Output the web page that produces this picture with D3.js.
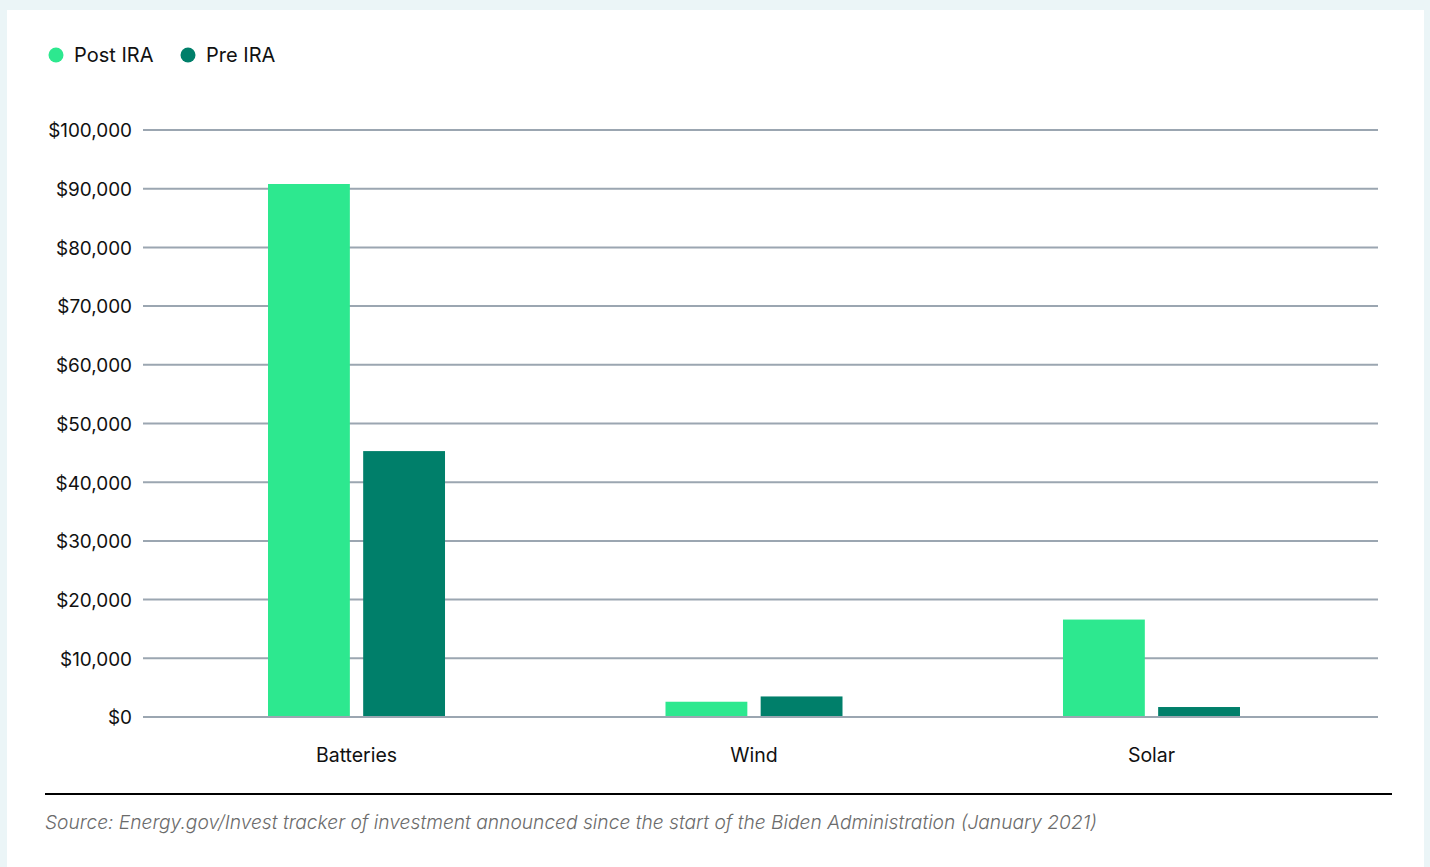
<!DOCTYPE html>
<html>
<head>
<meta charset="utf-8">
<script src="https://cdn.jsdelivr.net/npm/d3@7"></script>
<style>
  html, body { margin: 0; padding: 0; background: #ebf5f7; }
  svg { display: block; }
</style>
</head>
<body>
<svg id="chart" width="1430" height="867"></svg>
<script>
const categories = ["Batteries", "Wind", "Solar"];
const seriesNames = ["Post IRA", "Pre IRA"];
const postIRA = [90800, 2600, 16600];
const preIRA = [45300, 3500, 1700];
const yTicks = [0, 10000, 20000, 30000, 40000, 50000, 60000, 70000, 80000, 90000, 100000];
const colors = ["#2de88f", "#007f6a"];
const sourceText = "Source: Energy.gov/Invest tracker of investment announced since the start of the Biden Administration (January 2021)";

const svg = d3.select("#chart");
const font = "Inter, 'Liberation Sans', sans-serif";

// card
svg.append("rect").attr("x", 7).attr("y", 10).attr("width", 1417).attr("height", 857).attr("fill", "#ffffff");

const y = d3.scaleLinear().domain([0, 100000]).range([717, 130]);
const x0 = d3.scaleBand().domain(categories).range([157.75, 1350.25]).paddingInner(0.5547).paddingOuter(0.2774);
const x1 = d3.scaleBand().domain(seriesNames).range([0, x0.bandwidth()]).paddingInner(0.14);

// grid + y labels
const yAxis = d3.axisLeft(y).tickValues(yTicks).tickSize(0).tickPadding(0).tickFormat(d => "$" + d3.format(",")(d));
const gy = svg.append("g").attr("transform", "translate(132,0)").call(yAxis);
gy.select(".domain").remove();
gy.selectAll("text").attr("font-family", font).attr("font-size", 18.9).attr("fill", "#111").attr("dy", "0.36em");

svg.append("g").selectAll("line").data(yTicks).join("line")
  .attr("x1", 143).attr("x2", 1378)
  .attr("y1", d => y(d)).attr("y2", d => y(d))
  .attr("stroke", "#9ba6b1").attr("stroke-width", 2);

// bars
const data = categories.map((c, i) => ({ cat: c, vals: [postIRA[i], preIRA[i]] }));
const groups = svg.append("g").selectAll("g").data(data).join("g")
  .attr("transform", d => `translate(${x0(d.cat)},0)`);
groups.selectAll("rect").data(d => d.vals.map((v, j) => ({ name: seriesNames[j], v, j }))).join("rect")
  .attr("x", d => x1(d.name))
  .attr("width", x1.bandwidth())
  .attr("y", d => y(d.v))
  .attr("height", d => y(0) - y(d.v) - 1)
  .attr("fill", d => colors[d.j]);

// x labels
const xAxis = d3.axisBottom(x0).tickSize(0);
const gx = svg.append("g").attr("transform", "translate(0,745)").call(xAxis);
gx.select(".domain").remove();
gx.selectAll("text").attr("font-family", font).attr("font-size", 19.5).attr("fill", "#111").attr("dy", "0.71em");

// legend
const legendX = [56, 188];
const leg = svg.append("g").selectAll("g").data(seriesNames).join("g")
  .attr("transform", (d, i) => `translate(${legendX[i]},55)`);
leg.append("circle").attr("r", 7.5).attr("fill", (d, i) => colors[i]);
leg.append("text").attr("x", 18).attr("dy", "0.36em")
  .attr("font-family", font).attr("font-size", 20).attr("fill", "#111").text(d => d);

// source line + text
svg.append("line").attr("x1", 45).attr("x2", 1392).attr("y1", 794).attr("y2", 794).attr("stroke", "#000").attr("stroke-width", 2);
svg.append("text").attr("x", 45).attr("y", 829)
  .attr("font-family", font).attr("font-size", 19.2).attr("font-style", "italic").attr("font-weight", 300)
  .attr("fill", "#6b6b6b").text(sourceText);
</script>
</body>
</html>
